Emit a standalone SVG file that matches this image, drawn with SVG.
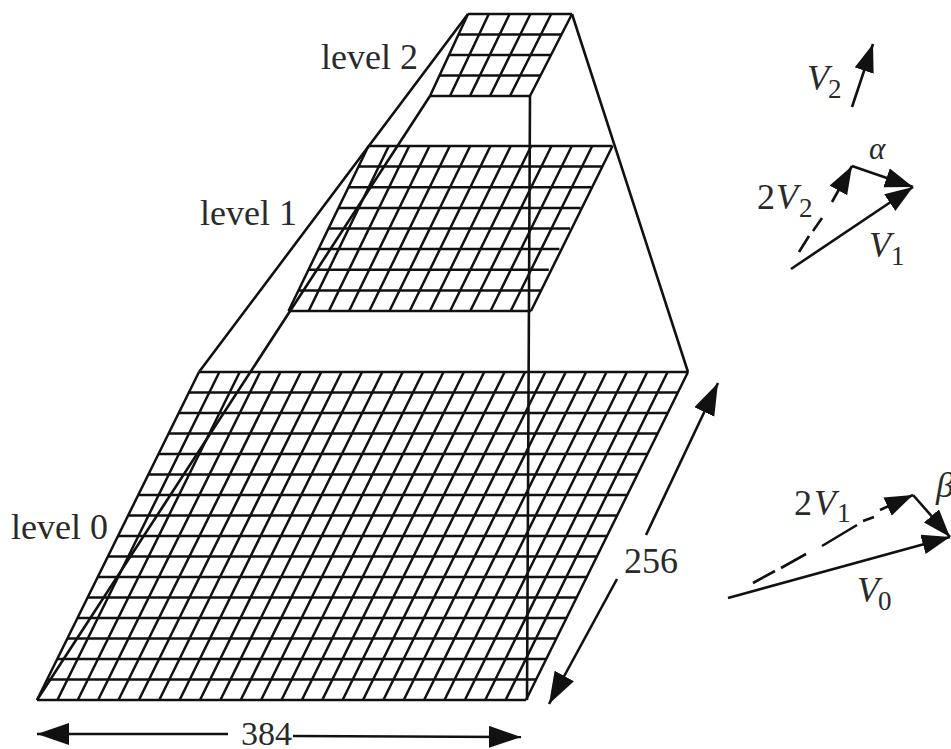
<svg xmlns="http://www.w3.org/2000/svg" width="951" height="749" viewBox="0 0 951 749">
<style>
.g{fill:none;stroke:#111;stroke-width:2.5}
.c{fill:none;stroke:#111;stroke-width:2.6}
text{font-family:"Liberation Serif","Times New Roman",serif;font-size:36px;fill:#2a2a2a}
.i{font-style:italic}
.s{font-size:27px}
</style>
<defs>
<marker id="a" markerUnits="userSpaceOnUse" markerWidth="34" markerHeight="24" refX="32" refY="11" orient="auto"><path d="M0 0L32 11L0 22Z" fill="#111"/></marker>
<marker id="b" markerUnits="userSpaceOnUse" markerWidth="30" markerHeight="22" refX="28" refY="10" orient="auto"><path d="M0 0L28 10L0 20Z" fill="#111"/></marker>
</defs>
<rect width="951" height="749" fill="#fff"/>
<g id="level0">
<path class="g" d="M199 372H688M188.9 392.5H677.9M178.75 413H667.75M168.6 433.5H657.6M158.5 454H647.5M148.4 474.5H637.4M138.25 495H627.25M128.1 515.5H617.1M118 536H607M107.9 556.5H596.9M97.75 577H586.75M87.6 597.5H576.6M77.5 618H566.5M67.4 638.5H556.4M57.25 659H546.25M47.1 679.5H536.1M37 700H526"/>
<path class="g" d="M199 372L37 700M219.4 372L57.4 700M239.75 372L77.75 700M260.1 372L98.1 700M280.5 372L118.5 700M300.9 372L138.9 700M321.25 372L159.25 700M341.6 372L179.6 700M362 372L200 700M382.4 372L220.4 700M402.75 372L240.75 700M423.1 372L261.1 700M443.5 372L281.5 700M463.9 372L301.9 700M484.25 372L322.25 700M504.6 372L342.6 700M525 372L363 700M545.4 372L383.4 700M565.75 372L403.75 700M586.1 372L424.1 700M606.5 372L444.5 700M626.9 372L464.9 700M647.25 372L485.25 700M667.6 372L505.6 700M688 372L526 700"/>
</g>
<g id="level1">
<path class="g" d="M368.5 146H612.5M358.5 166.6H601.9M348.5 187.25H591.3M338.5 207.9H580.7M328.5 228.5H570M318.5 249.1H559.4M308.5 269.75H548.8M298.5 290.4H541.2M288.5 311H531"/>
<path class="g" d="M368.5 146L288.5 311M388.8 146L308.7 311M409.2 146L328.9 311M429.5 146L349.1 311M449.8 146L369.3 311M470.2 146L389.5 311M490.5 146L409.7 311M510.8 146L429.9 311M531.2 146L450.1 311M551.5 146L470.3 311M571.8 146L490.5 311M592.2 146L510.7 311M612.5 146L531 311"/>
</g>
<g id="level2">
<path class="g" d="M468 14H572M458.5 34.5H561.5M449 55H551M439.5 75.5H540.5M430 96H530"/>
<path class="g" d="M468 14L430 96M488.8 14L450 96M509.6 14L470 96M530.4 14L490 96M551.2 14L510 96M572 14L530 96"/>
</g>
<g id="connectors">
<path class="c" d="M468 14L199 372M430 96L37 700M572 14L688 372M530 96L527 700"/>
<path class="c" marker-end="url(#a)" d="M228 734H37"/>
<path class="c" marker-end="url(#a)" d="M293 736L521 737"/>
<path class="c" marker-end="url(#a)" d="M646 535L718 383"/>
<path class="c" marker-end="url(#a)" d="M617 579L549 704"/>
<path class="c" marker-end="url(#b)" d="M852 107L873 44"/>
<path class="c" marker-end="url(#b)" d="M832 202L852 166"/>
<path class="c" d="M799 252L809 236M813 231L822 218"/>
<path class="c" marker-end="url(#b)" d="M852 166L913 187"/>
<path class="c" marker-end="url(#b)" d="M791 269L913 187"/>
<path class="c" marker-end="url(#b)" d="M728 598L950 537"/>
<path class="c" d="M753 583L775 571M781 568L806 554M822 546L857 525M863 521L874 517"/>
<path class="c" marker-end="url(#b)" d="M880 510L913 495"/>
<path class="c" marker-end="url(#b)" d="M913 495L950 537"/>
</g>
<g id="labels">
<text x="321" y="69">level 2</text>
<text x="200" y="225">level 1</text>
<text x="11" y="539">level 0</text>
<text x="241" y="745" style="font-size:34px">384</text>
<text x="624" y="573">256</text>
<text class="i" x="807" y="90">V</text><text class="s" x="828" y="98">2</text>
<text class="i" x="869" y="159" style="font-size:31px">α</text>
<text x="757" y="209">2</text><text class="i" x="776" y="209">V</text><text class="s" x="799" y="217">2</text>
<text class="i" x="869" y="257">V</text><text class="s" x="891" y="265">1</text>
<text x="794" y="515">2</text><text class="i" x="814" y="515">V</text><text class="s" x="837" y="522">1</text>
<text class="i" x="857" y="602">V</text><text class="s" x="878" y="610">0</text>
<text class="i" x="936" y="497">β</text>
</g>
</svg>
